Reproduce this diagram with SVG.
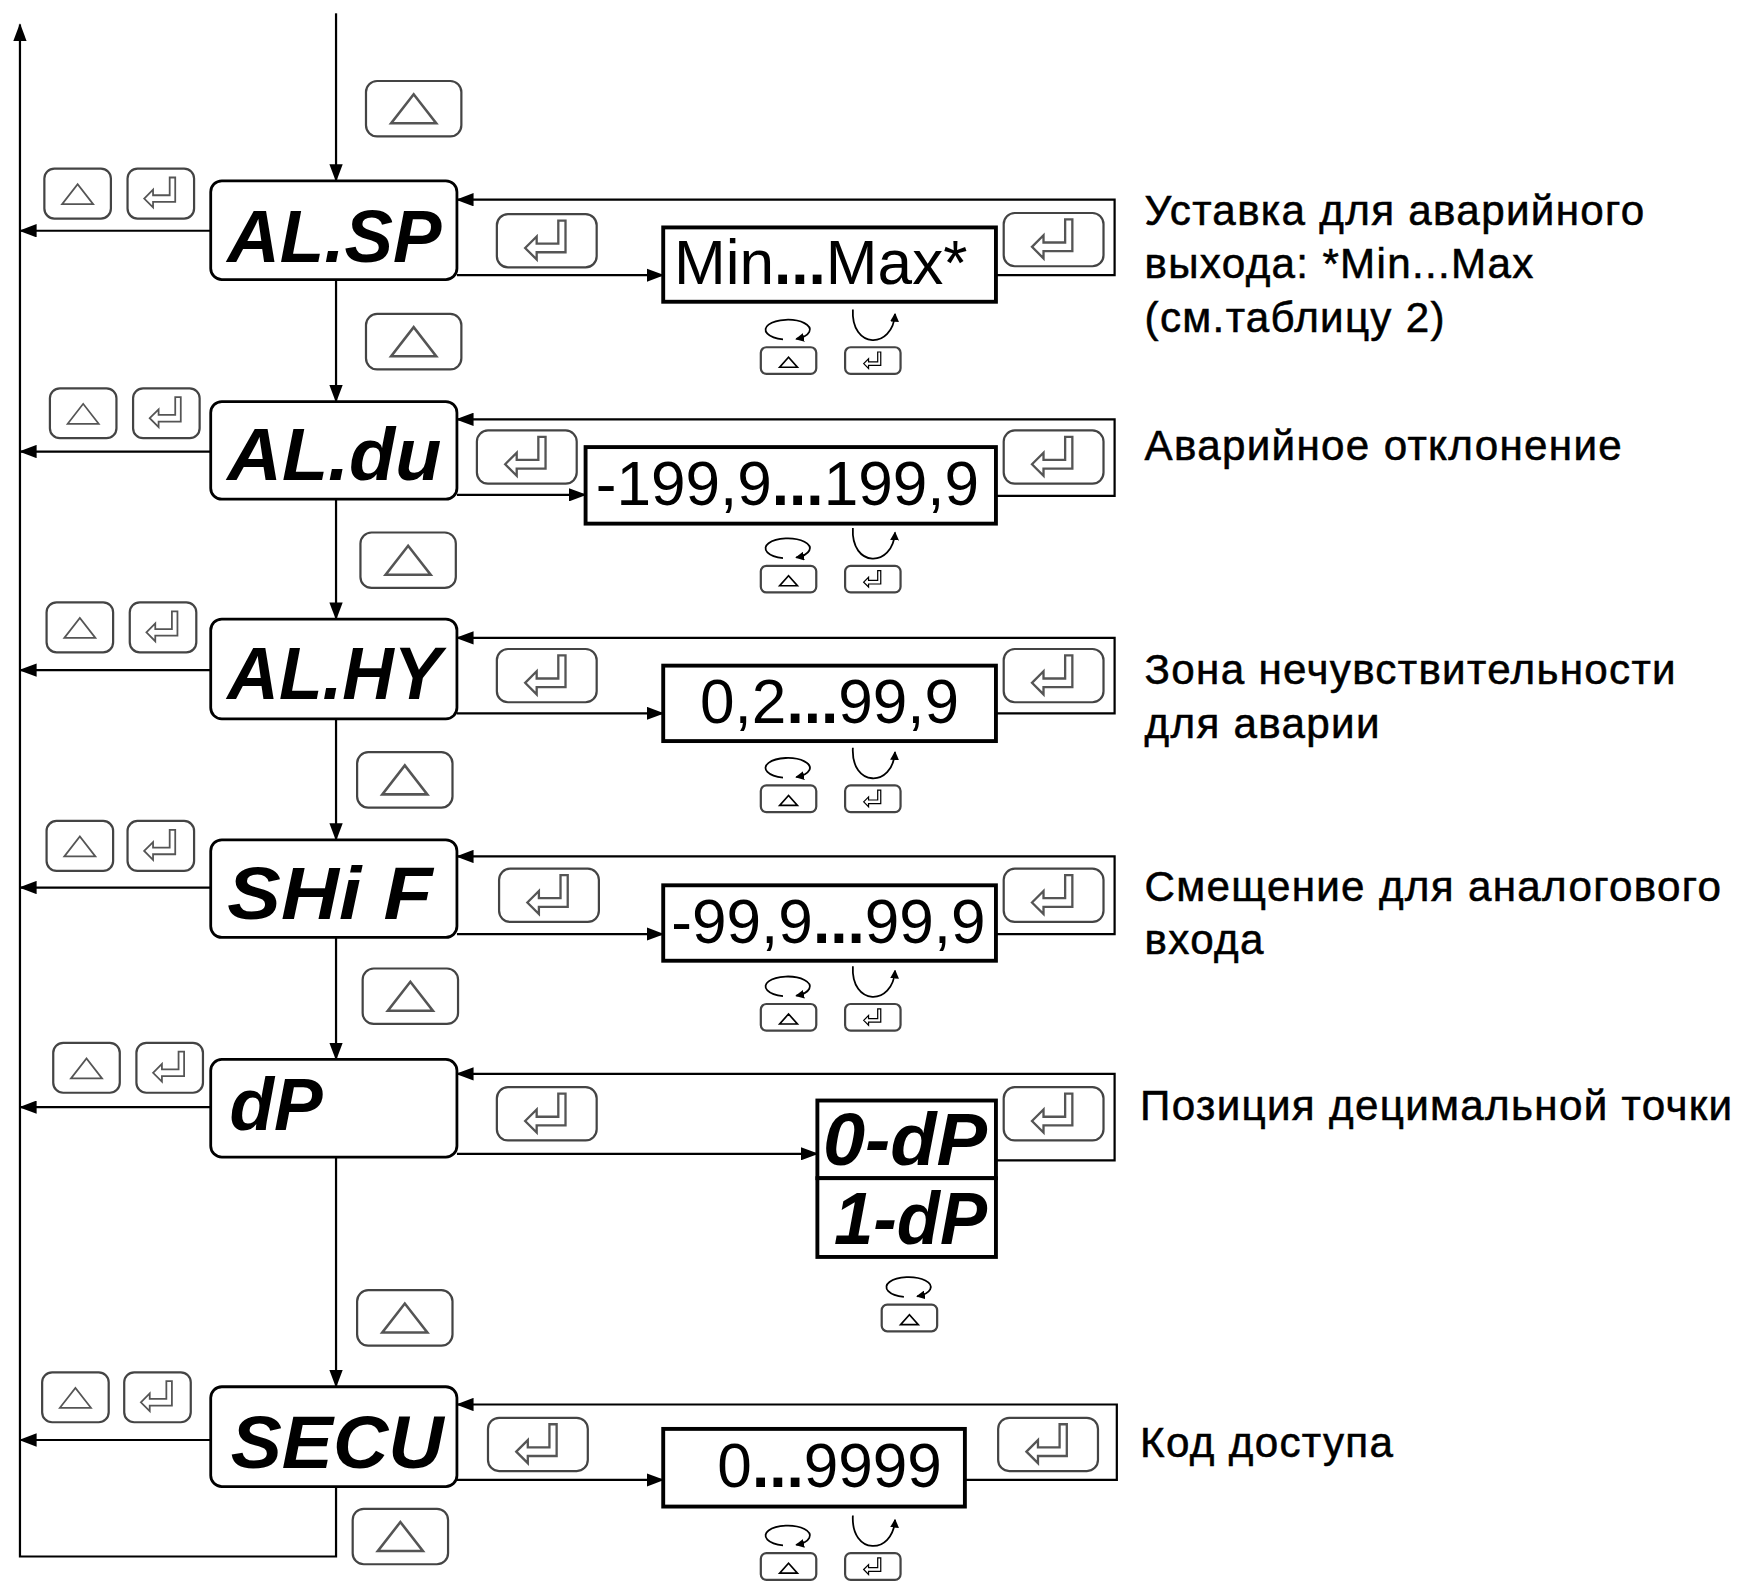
<svg xmlns="http://www.w3.org/2000/svg" xmlns:xlink="http://www.w3.org/1999/xlink" width="1739" height="1582" viewBox="0 0 1739 1582">
<style>
.ln{fill:none;stroke:#000;stroke-width:2}
.disp{fill:#fff;stroke:#000;stroke-width:2.5}
.val{fill:#fff;stroke:#000;stroke-width:3.5}
.btn{fill:#fff;stroke:#444;stroke-width:2}
.gl{fill:none;stroke:#555;stroke-width:1.6}
.seg{font-family:"Liberation Sans",Arial,sans-serif;font-weight:bold;font-style:italic;font-size:66px;fill:#000}
.vt{font-family:"Liberation Sans",Arial,sans-serif;font-size:56px;fill:#000}
.desc{font-family:"Liberation Sans",Arial,sans-serif;font-size:38px;letter-spacing:1.2px;fill:#000;stroke:#000;stroke-width:0.5}
</style>
<defs>
<marker id="ah" markerWidth="16" markerHeight="12" refX="15" refY="6" orient="auto" markerUnits="userSpaceOnUse"><path d="M0,0 L16,6 L0,12 z" fill="#000"/></marker>
<marker id="sah" markerWidth="8" markerHeight="8" refX="7" refY="4" orient="auto" markerUnits="userSpaceOnUse"><path d="M0,0 L8,4 L0,8 z" fill="#000"/></marker>
<path id="triG" d="M-14,9 L14,9 L0,-9 Z"/>
<path id="entG" d="M-15,5 L-7,-3 L-7,2 L8,2 L8,-14 L13,-14 L13,8 L-7,8 L-7,13 Z"/>
<g id="bSt"><rect class="btn" x="0" y="0" width="60" height="45" rx="9"/><use href="#triG" class="gl" transform="translate(30,23)"/></g>
<g id="bSe"><rect class="btn" x="0" y="0" width="60" height="45" rx="9"/><use href="#entG" class="gl" transform="translate(30,22)"/></g>
<g id="bLt"><rect class="btn" x="0" y="0" width="86" height="50" rx="10"/><use href="#triG" class="gl" transform="translate(43,25) scale(1.45)"/></g>
<g id="bLe"><rect class="btn" x="0" y="0" width="90" height="48" rx="10"/><use href="#entG" class="gl" transform="translate(45,24) scale(1.3)"/></g>
<g id="icC"><path d="M20,-7 A20,9 0 1 1 32,-7.5" fill="none" stroke="#000" stroke-width="1.6" marker-end="url(#sah)"/><rect class="btn" x="0" y="0" width="50" height="24" rx="5" stroke-width="1.6"/><path d="M17,18 L33,18 L25,9 Z" fill="none" stroke="#000" stroke-width="1.5"/></g>
<g id="icA"><path d="M7,-34 C5,2 43,2 45,-30" fill="none" stroke="#000" stroke-width="1.6" marker-end="url(#sah)"/><rect class="btn" x="0" y="0" width="50" height="24" rx="5" stroke-width="1.6"/><use href="#entG" fill="none" stroke="#000" stroke-width="2" transform="translate(25,12) scale(0.55)"/></g>
</defs>
<rect width="1739" height="1582" fill="#fff"/>
<g transform="scale(1.10906 1.1094)">
<g id="connectors">
<path class="ln" d="M303,1340 V1403 H18 V22" marker-end="url(#ah)"/>
<path class="ln" d="M303,12 V163" marker-end="url(#ah)"/>
<path class="ln" d="M190,208 H18" marker-end="url(#ah)"/>
<path class="ln" d="M898,248 H1005 V180 H412" marker-end="url(#ah)"/>
<path class="ln" d="M412,248 H598" marker-end="url(#ah)"/>
<path class="ln" d="M303,252 V362" marker-end="url(#ah)"/>
<path class="ln" d="M190,407 H18" marker-end="url(#ah)"/>
<path class="ln" d="M898,447 H1005 V378 H412" marker-end="url(#ah)"/>
<path class="ln" d="M412,446 H528" marker-end="url(#ah)"/>
<path class="ln" d="M303,450 V558" marker-end="url(#ah)"/>
<path class="ln" d="M190,604 H18" marker-end="url(#ah)"/>
<path class="ln" d="M898,643 H1005 V575 H412" marker-end="url(#ah)"/>
<path class="ln" d="M412,643 H598" marker-end="url(#ah)"/>
<path class="ln" d="M303,648 V757" marker-end="url(#ah)"/>
<path class="ln" d="M190,800 H18" marker-end="url(#ah)"/>
<path class="ln" d="M898,842 H1005 V772 H412" marker-end="url(#ah)"/>
<path class="ln" d="M412,842 H598" marker-end="url(#ah)"/>
<path class="ln" d="M303,845 V955" marker-end="url(#ah)"/>
<path class="ln" d="M190,998 H18" marker-end="url(#ah)"/>
<path class="ln" d="M898,1046 H1005 V968 H412" marker-end="url(#ah)"/>
<path class="ln" d="M412,1040 H737" marker-end="url(#ah)"/>
<path class="ln" d="M303,1043 V1250" marker-end="url(#ah)"/>
<path class="ln" d="M190,1298 H18" marker-end="url(#ah)"/>
<path class="ln" d="M870,1334 H1007 V1266 H412" marker-end="url(#ah)"/>
<path class="ln" d="M412,1334 H598" marker-end="url(#ah)"/>
</g>
<g id="buttons">
<use href="#bLt" x="330" y="73"/>
<use href="#bSt" x="40" y="152"/><use href="#bSe" x="115" y="152"/>
<use href="#bLe" x="448" y="193"/><use href="#bLe" x="905" y="192"/>
<use href="#bLt" x="330" y="283"/>
<use href="#bSt" x="45" y="350"/><use href="#bSe" x="120" y="350"/>
<use href="#bLe" x="430" y="388"/><use href="#bLe" x="905" y="388"/>
<use href="#bLt" x="325" y="480"/>
<use href="#bSt" x="42" y="543"/><use href="#bSe" x="117" y="543"/>
<use href="#bLe" x="448" y="585"/><use href="#bLe" x="905" y="585"/>
<use href="#bLt" x="322" y="678"/>
<use href="#bSt" x="42" y="740"/><use href="#bSe" x="115" y="740"/>
<use href="#bLe" x="450" y="783"/><use href="#bLe" x="905" y="783"/>
<use href="#bLt" x="327" y="873"/>
<use href="#bSt" x="48" y="940"/><use href="#bSe" x="123" y="940"/>
<use href="#bLe" x="448" y="980"/><use href="#bLe" x="905" y="980"/>
<use href="#bLt" x="322" y="1163"/>
<use href="#bSt" x="38" y="1237"/><use href="#bSe" x="112" y="1237"/>
<use href="#bLe" x="440" y="1278"/><use href="#bLe" x="900" y="1278"/>
<use href="#bLt" x="318" y="1360"/>
</g>
<g id="node-ALSP"><rect class="disp" x="190" y="163" width="222" height="89" rx="10"/><text class="seg" x="205" y="236" textLength="193" lengthAdjust="spacingAndGlyphs">AL.SP</text></g>
<g id="val-ALSP"><rect class="val" x="598" y="205" width="300" height="67"/><text class="vt" x="740" y="256" text-anchor="middle" font-size="50">Min<tspan font-weight="bold">...</tspan>Max*</text></g>
<g id="node-ALdu"><rect class="disp" x="190" y="362" width="222" height="88" rx="10"/><text class="seg" x="205" y="433" textLength="193" lengthAdjust="spacingAndGlyphs">AL.du</text></g>
<g id="val-ALdu"><rect class="val" x="528" y="403" width="370" height="69"/><text class="vt" x="710" y="455" text-anchor="middle" font-size="57">-199,9<tspan font-weight="bold">...</tspan>199,9</text></g>
<g id="node-ALHY"><rect class="disp" x="190" y="558" width="222" height="90" rx="10"/><text class="seg" x="205" y="630" textLength="193" lengthAdjust="spacingAndGlyphs">AL.HY</text></g>
<g id="val-ALHY"><rect class="val" x="598" y="600" width="300" height="68"/><text class="vt" x="748" y="652" text-anchor="middle">0,2<tspan font-weight="bold">...</tspan>99,9</text></g>
<g id="node-SHiF"><rect class="disp" x="190" y="757" width="222" height="88" rx="10"/><text class="seg" x="205" y="828" textLength="185" lengthAdjust="spacingAndGlyphs">SHi F</text></g>
<g id="val-SHiF"><rect class="val" x="598" y="798" width="300" height="68"/><text class="vt" x="747" y="850" text-anchor="middle">-99,9<tspan font-weight="bold">...</tspan>99,9</text></g>
<g id="node-dP"><rect class="disp" x="190" y="955" width="222" height="88" rx="10"/><text class="seg" x="207" y="1019" textLength="84" lengthAdjust="spacingAndGlyphs">dP</text></g>
<g id="val-dP"><rect class="val" x="737" y="992" width="161" height="70"/><text class="seg" x="742" y="1050" font-size="62" textLength="148" lengthAdjust="spacingAndGlyphs">0-dP</text><rect class="val" x="737" y="1062" width="161" height="71"/><text class="seg" x="752" y="1121" font-size="62" textLength="138" lengthAdjust="spacingAndGlyphs">1-dP</text></g>
<g id="node-SECU"><rect class="disp" x="190" y="1250" width="222" height="90" rx="10"/><text class="seg" x="208" y="1323" textLength="192" lengthAdjust="spacingAndGlyphs">SECU</text></g>
<g id="val-SECU"><rect class="val" x="598" y="1288" width="272" height="70"/><text class="vt" x="748" y="1340" text-anchor="middle">0<tspan font-weight="bold">...</tspan>9999</text></g>
<g id="icons">
<use href="#icC" x="686" y="313"/><use href="#icA" x="762" y="313"/>
<use href="#icC" x="686" y="510"/><use href="#icA" x="762" y="510"/>
<use href="#icC" x="686" y="708"/><use href="#icA" x="762" y="708"/>
<use href="#icC" x="686" y="905"/><use href="#icA" x="762" y="905"/>
<use href="#icC" x="795" y="1176"/>
<use href="#icC" x="686" y="1400"/><use href="#icA" x="762" y="1400"/>
</g>
<g id="descriptions">
<text class="desc" x="1032" y="203">Уставка для аварийного</text>
<text class="desc" x="1032" y="251">выхода: *Min...Max</text>
<text class="desc" x="1032" y="299">(см.таблицу 2)</text>
<text class="desc" x="1032" y="415">Аварийное отклонение</text>
<text class="desc" x="1032" y="617">Зона нечувствительности</text>
<text class="desc" x="1032" y="665">для аварии</text>
<text class="desc" x="1032" y="812">Смещение для аналогового</text>
<text class="desc" x="1032" y="860">входа</text>
<text class="desc" x="1028" y="1010">Позиция децимальной точки</text>
<text class="desc" x="1028" y="1313">Код доступа</text>
</g>
</g>
</svg>
